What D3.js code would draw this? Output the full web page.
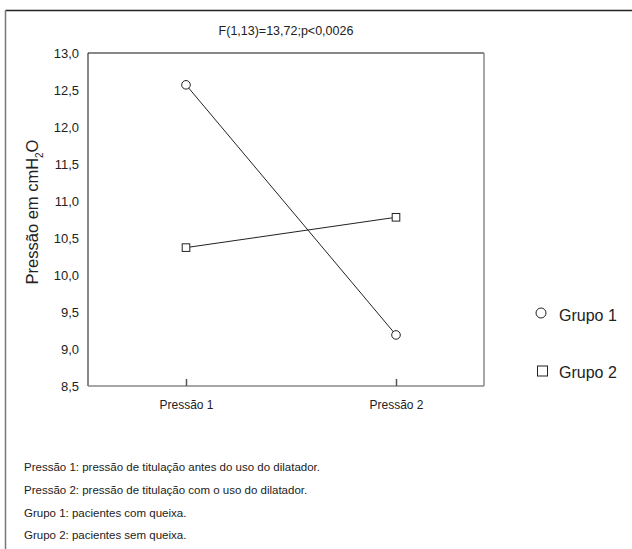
<!DOCTYPE html>
<html><head><meta charset="utf-8">
<script src="https://cdn.jsdelivr.net/npm/d3@7"></script>
<style>body{margin:0;background:#fff}svg{display:block;font-family:"Liberation Sans",Arial,sans-serif}</style>
</head><body><svg id="c" width="632" height="549"></svg>
<script>
const categories = ["Pressão 1", "Pressão 2"];
const grupo1 = [12.57, 9.19];
const grupo2 = [10.37, 10.78];
const yTicks = [8.5, 9.0, 9.5, 10.0, 10.5, 11.0, 11.5, 12.0, 12.5, 13.0];
const seriesNames = ["Grupo 1", "Grupo 2"];
const title = "F(1,13)=13,72;p<0,0026";
const notes = ["Pressão 1: pressão de titulação antes do uso do dilatador.",
  "Pressão 2: pressão de titulação com o uso do dilatador.",
  "Grupo 1: pacientes com queixa.",
  "Grupo 2: pacientes sem queixa."];

const svg = d3.select("#c");
const L = 88, R = 484, T = 53, B = 386;
// outer frame
svg.append("line").attr("x1",5.5).attr("x2",632).attr("y1",10.5).attr("y2",10.5).attr("stroke","#222").attr("stroke-width",1.3);
svg.append("line").attr("x1",5.5).attr("x2",5.5).attr("y1",10.5).attr("y2",549).attr("stroke","#777").attr("stroke-width",1.5);

const x = d3.scalePoint().domain(categories).range([186, 396]).padding(0);
const y = d3.scaleLinear().domain([8.5, 13]).range([B, T]);
const fmt = v => d3.format(".1f")(v).replace(".", ",");

// plot box
svg.append("line").attr("x1",L).attr("x2",R).attr("y1",T).attr("y2",T).attr("stroke","#111").attr("stroke-width",1);
svg.append("line").attr("x1",L).attr("x2",L).attr("y1",T).attr("y2",B).attr("stroke","#111").attr("stroke-width",1);
svg.append("line").attr("x1",R).attr("x2",R).attr("y1",T).attr("y2",B).attr("stroke","#888").attr("stroke-width",1.5);
svg.append("line").attr("x1",L).attr("x2",R).attr("y1",B).attr("y2",B).attr("stroke","#888").attr("stroke-width",1.5);

// y axis labels
const ya = svg.append("g").attr("transform",`translate(${L},0)`)
  .call(d3.axisLeft(y).tickValues(yTicks).tickFormat(fmt).tickSize(0).tickPadding(9));
ya.select(".domain").remove();
ya.selectAll("text").attr("font-size",13).attr("fill","#222").style("font-family","Liberation Sans, Arial, sans-serif");

// x axis
const xa = svg.append("g").attr("transform",`translate(0,${B})`)
  .call(d3.axisBottom(x).tickSize(-7).tickPadding(14));
xa.select(".domain").remove();
xa.selectAll("line").attr("stroke","#555").attr("stroke-width",1.5);
xa.selectAll("text").attr("font-size",12).attr("fill","#222").style("font-family","Liberation Sans, Arial, sans-serif");

// title
svg.append("text").attr("x",286).attr("y",35).attr("text-anchor","middle").attr("font-size",12.5).attr("fill","#222").text(title);

// y title
const yt = svg.append("text").attr("transform","translate(38,212) rotate(-90)").attr("text-anchor","middle").attr("font-size",16.5).attr("fill","#222");
yt.append("tspan").text("Pressão em cmH");
yt.append("tspan").attr("font-size",10).attr("dy",5).text("2");
yt.append("tspan").attr("dy",-5).text("O");

// lines
const line = d3.line().x((d,i)=>x(categories[i])).y(d=>y(d));
[grupo1, grupo2].forEach(s => svg.append("path").attr("d", line(s)).attr("fill","none").attr("stroke","#222").attr("stroke-width",1));
svg.selectAll(".c1").data(grupo1).enter().append("circle").attr("cx",(d,i)=>x(categories[i])).attr("cy",d=>y(d)).attr("r",4.3).attr("fill","#fff").attr("stroke","#222").attr("stroke-width",1);
svg.selectAll(".s2").data(grupo2).enter().append("rect").attr("x",(d,i)=>x(categories[i])-3.8).attr("y",d=>y(d)-3.8).attr("width",7.6).attr("height",7.6).attr("fill","#fff").attr("stroke","#222").attr("stroke-width",1);

// legend
svg.append("circle").attr("cx",541).attr("cy",313).attr("r",5).attr("fill","#fff").attr("stroke","#222").attr("stroke-width",1);
svg.append("rect").attr("x",537.5).attr("y",366).attr("width",10).attr("height",10).attr("fill","#fff").attr("stroke","#222").attr("stroke-width",1);
svg.append("text").attr("x",559).attr("y",321).attr("font-size",16).attr("fill","#222").text(seriesNames[0]);
svg.append("text").attr("x",559).attr("y",378).attr("font-size",16).attr("fill","#222").text(seriesNames[1]);

// notes
svg.selectAll(".note").data(notes).enter().append("text").attr("x",24).attr("y",(d,i)=>471+i*22.8).attr("font-size",11.5).attr("fill","#222").text(d=>d);
</script></body></html>
